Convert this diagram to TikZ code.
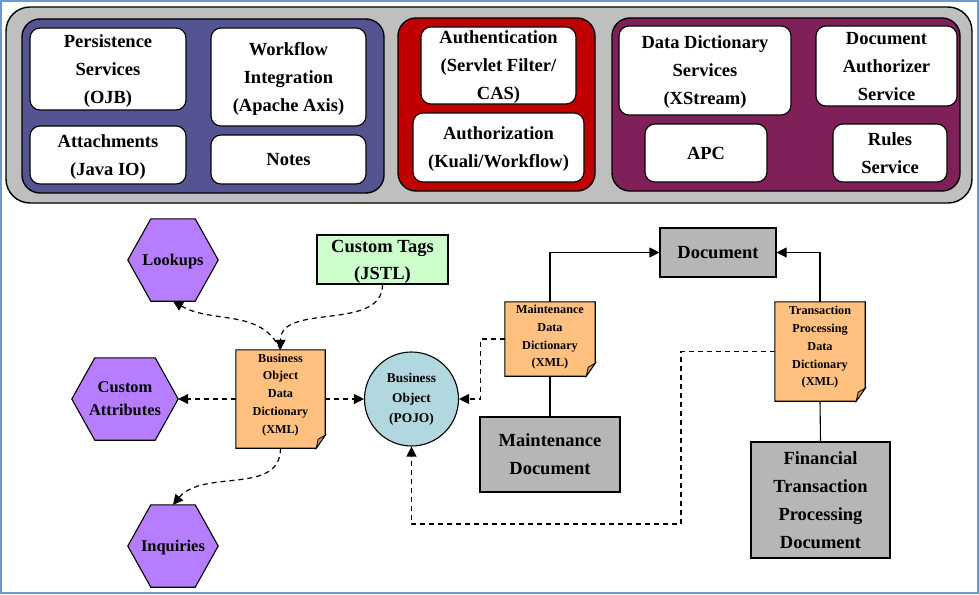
\documentclass[tikz,border=0pt]{standalone}
\usepackage{fontspec}
\setmainfont{Liberation Serif}
\usetikzlibrary{arrows.meta,calc,backgrounds}

\definecolor{framegray}{RGB}{191,191,191}
\definecolor{kualiblue}{RGB}{84,84,146}
\definecolor{kualired}{RGB}{192,0,0}
\definecolor{kualiplum}{RGB}{128,32,88}
\definecolor{hexpurple}{RGB}{182,126,254}
\definecolor{tagsgreen}{RGB}{204,255,204}
\definecolor{paperorange}{RGB}{255,192,128}
\definecolor{foldorange}{RGB}{205,150,100}
\definecolor{pojoblue}{RGB}{176,216,222}
\definecolor{docgray}{RGB}{182,182,182}
\definecolor{borderblue}{RGB}{105,152,215}

\tikzset{
  svcbox/.style={draw, fill=white, rounded corners=10pt, line width=1.1pt, align=center,
    inner sep=0pt, text depth=-2pt, font=\fontsize{18.5}{28}\selectfont\bfseries},
  panel/.style={draw, line width=1.4pt, rounded corners=18pt},
  hexa/.style={align=center, inner sep=0pt, minimum height=82pt, text depth=-3pt,
    font=\fontsize{16.4}{23}\selectfont\bfseries},
  hexpaint/.style={draw, fill=hexpurple, line width=1.1pt},
  docbox/.style={draw, fill=docgray, line width=1.1pt, align=center, inner sep=0pt,
    font=\fontsize{18.5}{28}\selectfont\bfseries},
  ddnote/.style={align=center, inner sep=0pt, text depth=11pt,
    font=\fontsize{12.2}{17.8}\selectfont\bfseries},
  notepaper/.style={draw, fill=paperorange, line width=1.1pt},
  notefold/.style={draw, fill=foldorange, line width=0.8pt},
  dashlink/.style={dash pattern=on 5pt off 4pt, line width=1.2pt},
  solidlink/.style={line width=1.1pt},
  >={Triangle[length=10pt,width=10pt]}
}

\begin{document}
\begin{tikzpicture}[x=1pt,y=1pt]
  \useasboundingbox (0,0) rectangle (979,-594);
  \draw[borderblue, line width=1.5pt] (1,-1) rectangle (978,-593);

  % service layer
  \draw[panel, fill=framegray, rounded corners=24pt] (6,-7) rectangle (972,-203);
  \draw[panel, fill=kualiblue] (22,-19) rectangle (384,-193);
  \draw[panel, fill=kualired] (398,-18) rectangle (595,-191);
  \draw[panel, fill=kualiplum] (612,-18) rectangle (960,-191);

  \node[svcbox, minimum width=156pt, minimum height=82pt] (persist) at (108,-69) {Persistence\\Services\\(OJB)};
  \node[svcbox, minimum width=155pt, minimum height=98pt] (wflow) at (288.5,-77) {Workflow\\Integration\\(Apache Axis)};
  \node[svcbox, minimum width=156pt, minimum height=58pt] (attach) at (108,-155) {Attachments\\(Java IO)};
  \node[svcbox, minimum width=155pt, minimum height=49pt] (notes) at (288.5,-159.5) {Notes};

  \node[svcbox, minimum width=155pt, minimum height=77pt] (authn) at (498.5,-65.5) {Authentication\\(Servlet Filter/\\CAS)};
  \node[svcbox, minimum width=171pt, minimum height=69pt] (authz) at (498.5,-147.5) {Authorization\\(Kuali/Workflow)};

  \node[svcbox, minimum width=172pt, minimum height=89pt] (ddsvc) at (705,-70.5) {Data Dictionary\\Services\\(XStream)};
  \node[svcbox, minimum width=141pt, minimum height=80pt] (docauth) at (886.5,-66) {Document\\Authorizer\\Service};
  \node[svcbox, minimum width=122pt, minimum height=58pt] (apc) at (706,-153) {APC};
  \node[svcbox, minimum width=114pt, minimum height=58pt] (rules) at (890,-153) {Rules\\Service};

  % business objects
  \node[hexa, minimum width=90pt] (lookups) at (173,-260) {Lookups};
  \node[hexa, minimum width=106pt] (custattr) at (125,-399) {Custom\\Attributes};
  \node[hexa, minimum width=90pt] (inquiries) at (173,-546) {Inquiries};

  \node[draw, fill=tagsgreen, line width=1.1pt, align=center, inner sep=0pt, minimum width=131pt,
    minimum height=49pt, text depth=-2pt, font=\fontsize{18.5}{27}\selectfont\bfseries] (ctags) at (382.5,-259.5) {Custom Tags\\(JSTL)};

  \node[ddnote, minimum width=89pt, minimum height=98pt] (bodd) at (280.5,-399) {Business\\Object\\Data\\Dictionary\\(XML)};
  \node[circle, draw, fill=pojoblue, line width=1.1pt, align=center, inner sep=0pt, minimum size=94pt,
    font=\fontsize{13.4}{20}\selectfont\bfseries] (bobj) at (411.5,-399) {Business\\Object\\(POJO)};

  % documents
  \node[ddnote, minimum width=90pt, minimum height=74pt, text depth=6pt] (mdd) at (550,-339) {Maintenance\\Data\\Dictionary\\(XML)};
  \node[docbox, minimum width=140pt, minimum height=75pt] (mdoc) at (550,-454.5) {Maintenance\\Document};
  \node[docbox, minimum width=116pt, minimum height=49pt] (doc) at (718,-252.5) {Document};
  \node[ddnote, minimum width=90pt, minimum height=99pt] (tpdd) at (820,-351.5) {Transaction\\Processing\\Data\\Dictionary\\(XML)};
  \node[docbox, minimum width=139pt, minimum height=116pt] (ftpd) at (820.5,-500) {Financial\\Transaction\\Processing\\Document};

  \begin{scope}[on background layer]
    \foreach \n in {lookups,custattr,inquiries}{
      \draw[hexpaint] (\n.west) -- ($(\n.north west)+(23,0)$) -- ($(\n.north east)+(-23,0)$)
        -- (\n.east) -- ($(\n.south east)+(-23,0)$) -- ($(\n.south west)+(23,0)$) -- cycle;
    }
    \foreach \n in {bodd,mdd,tpdd}{
      \draw[notepaper] (\n.north west) -- (\n.north east) -- ($(\n.south east)+(0,13)$)
        -- ($(\n.south east)+(-9,0)$) -- (\n.south west) -- cycle;
      \draw[notefold] ($(\n.south east)+(0,13)$) -- ($(\n.south east)+(-9,0)$)
        -- ($(\n.south east)+(-7,9)$) -- cycle;
    }
  \end{scope}

  \coordinate (tploop) at (681,-524);

  \draw[solidlink,->] (mdd.north) |- (doc.west);
  \draw[solidlink,->] (tpdd.north) |- (doc.east);
  \draw[solidlink] (mdd.south) -- (mdoc.north);
  \draw[solidlink] (tpdd.south) -- (ftpd.north);

  \draw[dashlink,->] (mdd.west) -- ++(-24,0) |- (bobj.east);
  \draw[dashlink,->] (tpdd.west) -| (tploop) -| (bobj.south);
  \draw[dashlink,->] (bodd.east) -- (bobj.west);
  \draw[dashlink,->] (bodd.west) -- (custattr.east);
  \draw[dashlink,->] (ctags.south) to[out=-90,in=90] (bodd.north);
  \draw[dashlink,->] (bodd.north) to[out=115,in=-30] (lookups.south);
  \draw[dashlink,->] (bodd.south) to[out=-90,in=50] (inquiries.north);
\end{tikzpicture}
\end{document}
